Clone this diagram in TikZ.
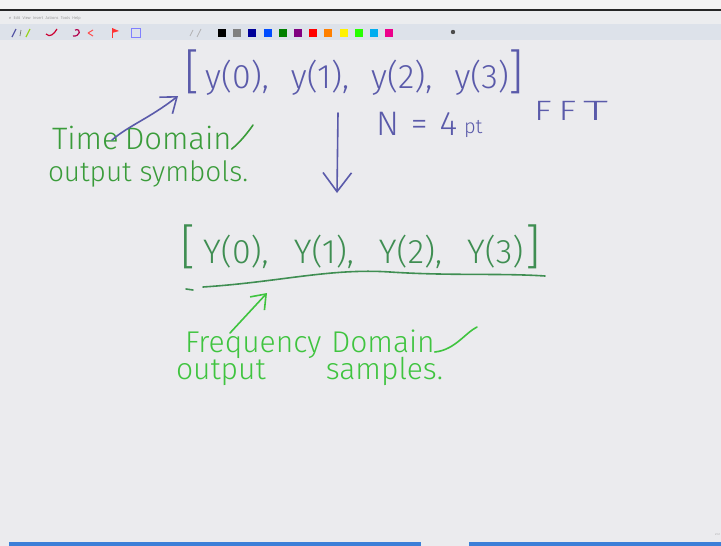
\documentclass[tikz,border=0pt]{standalone}
\usepackage{fontspec}
\setmainfont{Fira Sans}[UprightFont={* Light}]
\usetikzlibrary{arrows.meta}
\definecolor{canvas}{HTML}{EBEBEE}
\definecolor{topstrip}{HTML}{F3F3F3}
\definecolor{menubg}{HTML}{ECEDEF}
\definecolor{toolbg}{HTML}{DDE2EA}
\definecolor{blueink}{HTML}{5A5AAA}
\definecolor{darkgreen}{HTML}{3F8E52}
\definecolor{midgreen}{HTML}{3A9C3A}
\definecolor{brightgreen}{HTML}{3FC43F}
\definecolor{taskblue}{HTML}{3C7FD8}
\newcommand{\bigbr}[1]{{\fontsize{48}{48}\selectfont #1}}
\begin{document}
\begin{tikzpicture}[x=1pt,y=-1pt,
  hand/.style={inner sep=0pt, outer sep=0pt},
  note/.style={hand, font=\fontsize{31}{31}\selectfont},
  pen/.style={line width=1.6pt, line cap=round, line join=round},
  vhead/.style={-{Straight Barb[length=#1, width=1.5*#1, line width=1.6pt]}},
  swatch/.style={minimum width=8pt, minimum height=8pt, inner sep=0pt}]
\useasboundingbox (0,0) rectangle (721,546);
\fill[canvas] (0,0) rectangle (721,546);
% window chrome
\fill[topstrip] (0,0) rectangle (721,9);
\fill[menubg] (0,11) rectangle (721,24);
\draw[black!85, line width=1.6pt] (0,10) -- (721,10);
\node[anchor=west, inner sep=0pt, text=black!55, font=\fontsize{4}{4}\selectfont] (menu) at (9,18) {e\ \ Edit\ \ View\ \ Insert\ \ Actions\ \ Tools\ \ Help};
\fill[toolbg] (0,24) rectangle (721,40);
\foreach \c [count=\i from 0] in {black,gray,blue!60!black,blue!70!cyan,green!50!black,violet,red,orange,yellow,green!80!lime,cyan,magenta}
  \node[swatch, fill=\c] (sw\i) at ({222+15.2*\i},33) {};
% small tool icons
\draw[gray!70!blue, line width=1.2pt] (12,37) -- (16,29);
\draw[gray, line width=0.8pt] (20,36) -- (21,30);
\draw[yellow!60!green, line width=1.2pt] (26,37) -- (30,29);
\draw[red!60!violet, line width=1.2pt] (46,34) .. controls (50,38) and (54,34) .. (57,29);
\draw[red!40!violet, line width=1.2pt] (75,30) .. controls (82,28) and (80,37) .. (73,36);
\draw[red!70, line width=1pt] (88,33) -- (93,30) (88,33) -- (93,36);
\fill[red!80] (112,28) -- (119,31) -- (112,33) -- cycle;
\draw[red!80, line width=0.8pt] (112,28) -- (112,38);
\draw[blue!50, line width=1pt] (131,28) rectangle (140,37);
\draw[gray!60, line width=0.8pt] (190,36) -- (193,30) (197,37) -- (201,29);
\fill[black!70] (453,32) circle (2.2pt);
% taskbar
\fill[taskblue] (9,542) rectangle (421,546);
\fill[taskblue] (469,542) rectangle (721,546);
\node[anchor=east, inner sep=0pt, text=black!45, font=\fontsize{3}{3}\selectfont] (clock) at (720,534) {2:41};

% ---------- main content ----------
\node[hand, text=blueink, anchor=base west, font=\fontsize{34}{34}\selectfont] (ytime) at (184,88)
  {\bigbr{[}\hspace{6pt}y(0),\hspace{22pt}y(1),\hspace{22pt}y(2),\hspace{22pt}y(3)\bigbr{]}};
\node[hand, text=darkgreen, anchor=base west, font=\fontsize{34}{34}\selectfont] (Yfreq) at (180,263)
  {\bigbr{[}\hspace{8pt}Y(0),\hspace{25pt}Y(1),\hspace{25pt}Y(2),\hspace{25pt}Y(3)\hspace{2pt}\bigbr{]}};

% FFT arrow
\coordinate (fftstart) at (338,113);
\coordinate (fftend) at (337,193);
\draw[pen, blueink, vhead=19pt] (fftstart) -- (fftend);

\node[hand, text=blueink, anchor=base west, font=\fontsize{34}{34}\selectfont] (N) at (376,135) {N\hspace{12pt}=\hspace{12pt}4};
\node[hand, text=blueink, anchor=base west, font=\fontsize{20}{20}\selectfont] (pt) at (464,133) {pt};
\node[hand, text=blueink, anchor=base west, font=\fontsize{28}{28}\selectfont] (fft) at (534,120) {\scalebox{1.3}[1]{F}\hspace{7pt}\scalebox{1.3}[1]{F}\hspace{7pt}\scalebox{1.8}[1]{T}};

% time domain note
\node[note, text=midgreen, anchor=base west] (td1) at (52,149) {Time\hspace{6pt}Domain};
\node[note, text=midgreen, anchor=base west, font=\fontsize{28}{28}\selectfont] (td2) at (48,181) {output symbols.};
\draw[pen, midgreen] (td1.base east) .. controls +(8,-6) and +(-4,6) .. (253,125);
\coordinate (tdfrom) at (112,140);
\coordinate (tdto) at (178,96);
\draw[pen, blueink, vhead=14pt] (tdfrom) .. controls (128,126) and (150,118) .. (tdto);

% underline under Y
\coordinate (ul0) at (203,287);
\coordinate (ul1) at (545,276);
\draw[pen, darkgreen] (ul0) .. controls (280,282) and (330,268) .. (390,272)
  .. controls (450,276) and (500,273) .. (ul1);
\draw[pen, darkgreen] (186,289) -- (193,290);

% frequency domain note
\node[note, text=brightgreen, anchor=base west, font=\fontsize{30}{30}\selectfont] (fd1) at (185,352) {Frequency\hspace{10pt}Domain};
\node[note, text=brightgreen, anchor=base west, font=\fontsize{30}{30}\selectfont] (fd2) at (176,379) {output\hspace{60pt}samples.};
\draw[pen, brightgreen] (fd1.base east) .. controls +(20,-2) and +(-12,6) .. (477,327);
\coordinate (fdfrom) at (230,333);
\coordinate (fdto) at (267,293);
\draw[pen, brightgreen, vhead=13pt] (fdfrom) -- (fdto);
\end{tikzpicture}
\end{document}
